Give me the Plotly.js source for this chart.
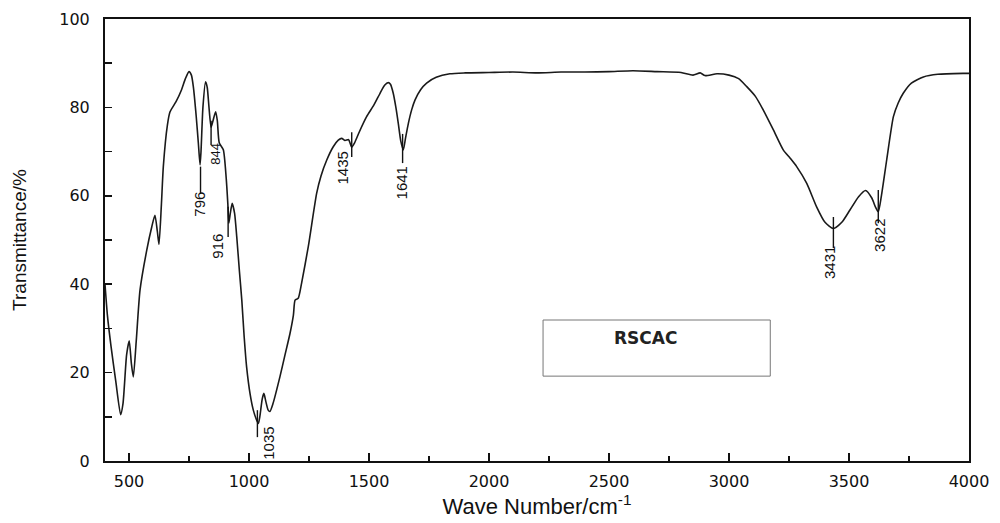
<!DOCTYPE html>
<html>
<head>
<meta charset="utf-8">
<script src="https://cdn.plot.ly/plotly-3.0.1.min.js"></script>
<style>html,body{margin:0;padding:0;background:#fff;}#chart{width:1000px;height:523px;}</style>
</head>
<body>
<div id="chart"></div>
<script>
// Wavenumber (cm^-1) and transmittance (%)
const waveNumber = [400,410,425,445,465,475,490,501,510,518,530,546,574,595,608,618,625,635,643,660,671,696,719,735,750,760,768,780,789,796,800,808,819,826,833,842,850,861,868,876,893,905,912,916,922,930,940,949,960,970,980,990,1005,1018,1030,1039,1045,1055,1062,1070,1080,1087,1100,1129,1150,1171,1185,1192,1205,1219,1247,1282,1300,1324,1351,1372,1386,1400,1415,1428,1440,1460,1490,1520,1546,1565,1580,1590,1601,1612,1622,1632,1643,1652,1664,1678,1692,1715,1740,1780,1837,1900,2000,2100,2200,2300,2400,2500,2600,2700,2800,2850,2880,2900,2950,3000,3040,3074,3110,3143,3185,3226,3255,3282,3324,3365,3400,3435,3470,3504,3540,3569,3595,3610,3622,3635,3657,3685,3705,3726,3760,3810,3870,3975,4000];
const transmittance = [40,33,26,18,10.5,13,24,27.2,22,19,27,38.7,47.7,53,55.6,52,49,58,66.6,76,79,81.3,84,86.5,88.1,87.3,84.7,78,71.9,67,70,80,85.8,84.5,80.2,75.5,77,79,77,72,70.4,64,58,53.8,56,58.3,56,50.7,43,36.4,28,21.3,15,11.5,9.5,8.5,10,14,15.3,13.5,11.5,11.2,13,19.1,24,28.9,33,36.4,36.8,40.2,48.5,60.6,64.5,68.1,71.1,72.6,73,72.5,72.7,71,72,74.5,77.9,80.5,83.2,85,85.6,85.2,83.2,80,76.4,72.5,70.4,73,76.4,79.5,81.7,84,85.5,86.8,87.6,87.8,87.9,88,87.8,88,88,88.1,88.3,88.1,87.9,87.3,87.8,87.2,87.6,87.3,86.5,84.7,82.5,79.4,74.9,70.4,68.5,66.6,62.8,57.5,54,52.6,54,56.8,59.8,61.2,59.5,57.5,56.4,60,68.1,77.9,81,83.2,85.5,86.9,87.5,87.7,87.7];

// Peak labels
const peakLabels = ["796","844","916","1035","1435","1641","3431","3622"];
const labelX     = [796, 862, 871, 1083, 1390, 1637, 3421, 3624];
const labelY     = [58, 69.5, 48.5, 4.1, 66.3, 63, 44.8, 51.1];
const markerX    = [798, 842, 913, 1035, 1428, 1640, 3435, 3622];
const markerTop  = [66.6, 77, 57.5, 11.5, 74.4, 74, 55.2, 61.3];
const markerBot  = [60.6, 71.5, 50.7, 5.4, 68.8, 67.4, 48.2, 53.8];

const xTickVals = [500,1000,1500,2000,2500,3000,3500,4000];
const yTickVals = [0,20,40,60,80,100];
const sampleName = "RSCAC";

const trace = {
  x: waveNumber, y: transmittance, type: 'scatter', mode: 'lines',
  line: {color: '#1a1a1a', width: 1.6, shape: 'spline', smoothing: 0.6},
  hoverinfo: 'skip'
};

const shapes = markerX.map((mx, i) => ({
  type: 'line', xref: 'x', yref: 'y', x0: mx, x1: mx, y0: markerBot[i], y1: markerTop[i],
  line: {color: '#111', width: 1.4}
}));
shapes.push({type: 'rect', xref: 'paper', yref: 'paper', x0: 0.507, x1: 0.770, y0: 0.192, y1: 0.319,
  line: {color: '#777', width: 1}, fillcolor: 'rgba(0,0,0,0)'});

const annotations = peakLabels.map((t, i) => ({
  text: t, x: labelX[i], y: labelY[i], xref: 'x', yref: 'y', showarrow: false, textangle: -90,
  font: {family: 'Liberation Sans, Arial, sans-serif', size: t === "844" ? 13 : 15, color: '#111'}
}));
annotations.push({text: '<b>' + sampleName + '</b>', xref: 'paper', yref: 'paper', x: 0.626, y: 0.252,
  showarrow: false, font: {family: 'DejaVu Sans, sans-serif', size: 17, color: '#222'}});

const layout = {
  width: 1000, height: 523,
  margin: {l: 105, r: 31, t: 19, b: 62},
  paper_bgcolor: '#fff', plot_bgcolor: '#fff',
  showlegend: false,
  xaxis: {
    range: [400, 4000], tickvals: xTickVals, ticks: 'inside', ticklen: 8, tickwidth: 1.5, tickcolor: '#111',
    minor: {dtick: 250, tick0: 250, ticks: 'inside', ticklen: 5, tickwidth: 1.5, tickcolor: '#111', showgrid: false},
    showgrid: false, zeroline: false, showline: true, mirror: true, linecolor: '#111', linewidth: 2,
    ticklabelstandoff: 5,
    tickfont: {family: 'DejaVu Sans, sans-serif', size: 16, color: '#111'},
    title: {text: 'Wave Number/cm<sup>-1</sup>', standoff: 6, font: {family: 'Liberation Sans, Arial, sans-serif', size: 22, color: '#111'}}
  },
  yaxis: {
    range: [0, 100], tickvals: yTickVals, ticks: 'inside', ticklen: 7, tickwidth: 1.5, tickcolor: '#111',
    minor: {dtick: 10, ticks: 'inside', ticklen: 7, tickwidth: 1.5, tickcolor: '#111', showgrid: false},
    showgrid: false, zeroline: false, showline: true, mirror: true, linecolor: '#111', linewidth: 2,
    ticklabelstandoff: 10,
    tickfont: {family: 'DejaVu Sans, sans-serif', size: 16, color: '#111'},
    title: {text: 'Transmittance/%', standoff: 28, font: {family: 'Liberation Sans, Arial, sans-serif', size: 19, color: '#111'}}
  },
  shapes: shapes,
  annotations: annotations
};

Plotly.newPlot('chart', [trace], layout, {displayModeBar: false, staticPlot: true});
</script>
</body>
</html>
